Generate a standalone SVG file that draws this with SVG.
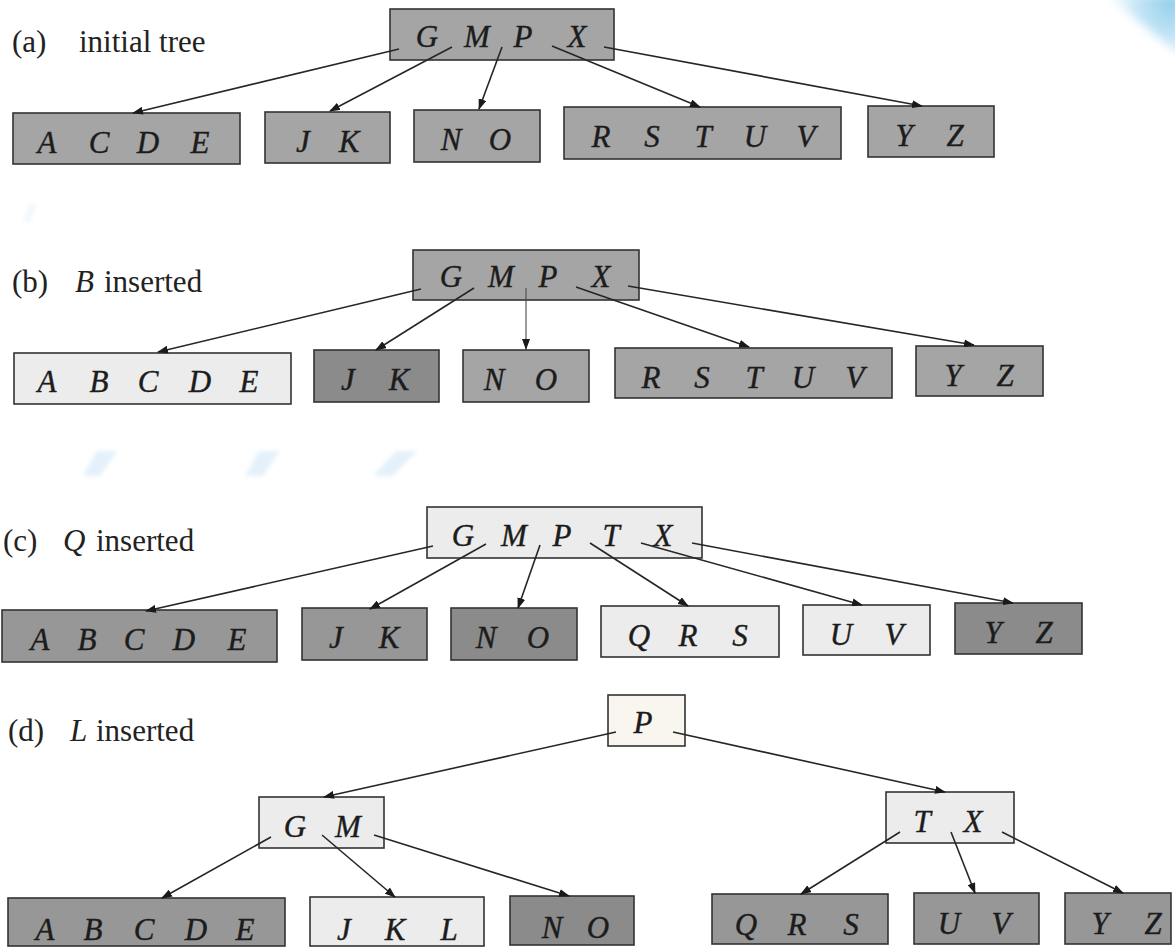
<svg xmlns="http://www.w3.org/2000/svg" width="1175" height="947" viewBox="0 0 1175 947">
  <style>
    .node rect { stroke: #333; stroke-width: 1.6; }
    .key { font-family: "Liberation Serif", "DejaVu Serif", "Times New Roman", serif; font-style: italic; font-size: 31px; fill: #1c1c1c; stroke: #1c1c1c; stroke-width: 0.4; text-anchor: middle; }
    .cap { font-family: "Liberation Serif", "DejaVu Serif", "Times New Roman", serif; font-size: 31px; fill: #222; }
    .cap .v { font-style: italic; }
    .mid { fill: #a5a5a5; }
    .dark { fill: #8b8b8b; }
    .dim { fill: #979797; }
    .light { fill: #ececec; }
    .cream { fill: #f8f6ef; }
    #links path { fill: none; stroke: #262626; stroke-width: 1.6; marker-end: url(#head); }
    #links path.thin { stroke: #4a4a4a; stroke-width: 1.1; }
    .mark { fill: #e4f1fa; }
  </style>
  <defs>
    <marker id="head" markerUnits="userSpaceOnUse" markerWidth="11" markerHeight="8" refX="10" refY="4" orient="auto">
      <path d="M0,0 L11,4 L0,8 Z" fill="#1a1a1a"/>
    </marker>
    <radialGradient id="corner" gradientUnits="userSpaceOnUse" cx="1175" cy="0" r="80">
      <stop offset="0" stop-color="#8fcdeb"/>
      <stop offset="0.5" stop-color="#c6e6f6"/>
      <stop offset="1" stop-color="#ffffff" stop-opacity="0"/>
    </radialGradient>
    <filter id="soft" x="-30%" y="-30%" width="160%" height="160%">
      <feGaussianBlur stdDeviation="2"/>
    </filter>
    <filter id="softer" x="-30%" y="-30%" width="160%" height="160%">
      <feGaussianBlur stdDeviation="5"/>
    </filter>
  </defs>

  <rect width="1175" height="947" fill="#ffffff"/>

  <!-- faint background marks -->
  <path d="M1105,-6 L1181,-6 L1181,56 Z" fill="url(#corner)" filter="url(#softer)"/>
  <g id="marks" filter="url(#soft)">
    <path class="mark" d="M97,451 L117,451 L100,476 L83,476 Z"/>
    <path class="mark" d="M259,451 L280,451 L263,476 L245,476 Z"/>
    <path class="mark" d="M396,451 L417,451 L393,476 L373,476 Z"/>
    <path d="M30,203 L37,203 L30,222 L23,222 Z" fill="#f1f7fc"/>
  </g>

  <!-- captions -->
  <text class="cap" x="12" y="52">(a)<tspan x="79">initial tree</tspan></text>
  <text class="cap" x="12" y="292">(b)<tspan class="v" x="75">B</tspan><tspan x="104">inserted</tspan></text>
  <text class="cap" x="3" y="551">(c)<tspan class="v" x="63">Q</tspan><tspan x="96">inserted</tspan></text>
  <text class="cap" x="8" y="741">(d)<tspan class="v" x="70">L</tspan><tspan x="96">inserted</tspan></text>

  <!-- (a) initial tree -->
  <g id="a-root" class="node"><rect class="mid" x="390" y="9" width="224" height="51"/>
    <text class="key" y="47"><tspan x="427">G</tspan><tspan x="477">M</tspan><tspan x="523">P</tspan><tspan x="577">X</tspan></text></g>
  <g id="a-acde" class="node"><rect class="mid" x="13" y="113" width="227" height="51"/>
    <text class="key" y="153"><tspan x="47">A</tspan><tspan x="99">C</tspan><tspan x="148">D</tspan><tspan x="200">E</tspan></text></g>
  <g id="a-jk" class="node"><rect class="mid" x="265" y="112" width="125" height="51"/>
    <text class="key" y="152"><tspan x="303">J</tspan><tspan x="349">K</tspan></text></g>
  <g id="a-no" class="node"><rect class="mid" x="414" y="110" width="126" height="52"/>
    <text class="key" y="150"><tspan x="451">N</tspan><tspan x="500">O</tspan></text></g>
  <g id="a-rstuv" class="node"><rect class="mid" x="564" y="107" width="277" height="52"/>
    <text class="key" y="147"><tspan x="601">R</tspan><tspan x="652">S</tspan><tspan x="703">T</tspan><tspan x="755">U</tspan><tspan x="806">V</tspan></text></g>
  <g id="a-yz" class="node"><rect class="mid" x="868" y="106" width="126" height="51"/>
    <text class="key" y="146"><tspan x="904">Y</tspan><tspan x="955">Z</tspan></text></g>

  <!-- (b) B inserted -->
  <g id="b-root" class="node"><rect class="mid" x="413" y="250" width="226" height="50"/>
    <text class="key" y="287"><tspan x="451">G</tspan><tspan x="501">M</tspan><tspan x="548">P</tspan><tspan x="601">X</tspan></text></g>
  <g id="b-abcde" class="node"><rect class="light" x="14" y="353" width="277" height="51"/>
    <text class="key" y="392"><tspan x="47">A</tspan><tspan x="99">B</tspan><tspan x="148">C</tspan><tspan x="200">D</tspan><tspan x="249">E</tspan></text></g>
  <g id="b-jk" class="node"><rect class="dark" x="314" y="350" width="125" height="52"/>
    <text class="key" y="390"><tspan x="348">J</tspan><tspan x="399">K</tspan></text></g>
  <g id="b-no" class="node"><rect class="mid" x="463" y="350" width="126" height="52"/>
    <text class="key" y="390"><tspan x="494">N</tspan><tspan x="546">O</tspan></text></g>
  <g id="b-rstuv" class="node"><rect class="mid" x="615" y="348" width="277" height="50"/>
    <text class="key" y="388"><tspan x="651">R</tspan><tspan x="702">S</tspan><tspan x="754">T</tspan><tspan x="803">U</tspan><tspan x="855">V</tspan></text></g>
  <g id="b-yz" class="node"><rect class="mid" x="916" y="346" width="127" height="50"/>
    <text class="key" y="386"><tspan x="953">Y</tspan><tspan x="1005">Z</tspan></text></g>

  <!-- (c) Q inserted -->
  <g id="c-root" class="node"><rect class="light" x="427" y="507" width="275" height="51"/>
    <text class="key" y="546"><tspan x="463">G</tspan><tspan x="514">M</tspan><tspan x="562">P</tspan><tspan x="611">T</tspan><tspan x="663">X</tspan></text></g>
  <g id="c-abcde" class="node"><rect class="dim" x="2" y="610" width="275" height="52"/>
    <text class="key" y="650"><tspan x="40">A</tspan><tspan x="87">B</tspan><tspan x="134">C</tspan><tspan x="184">D</tspan><tspan x="237">E</tspan></text></g>
  <g id="c-jk" class="node"><rect class="dim" x="302" y="608" width="125" height="52"/>
    <text class="key" y="648"><tspan x="336">J</tspan><tspan x="389">K</tspan></text></g>
  <g id="c-no" class="node"><rect class="dark" x="451" y="608" width="126" height="52"/>
    <text class="key" y="648"><tspan x="486">N</tspan><tspan x="538">O</tspan></text></g>
  <g id="c-qrs" class="node"><rect class="light" x="601" y="606" width="178" height="51"/>
    <text class="key" y="646"><tspan x="639">Q</tspan><tspan x="688">R</tspan><tspan x="740">S</tspan></text></g>
  <g id="c-uv" class="node"><rect class="light" x="803" y="605" width="127" height="50"/>
    <text class="key" y="645"><tspan x="841">U</tspan><tspan x="894">V</tspan></text></g>
  <g id="c-yz" class="node"><rect class="dark" x="955" y="603" width="127" height="51"/>
    <text class="key" y="643"><tspan x="993">Y</tspan><tspan x="1044">Z</tspan></text></g>

  <!-- (d) L inserted -->
  <g id="d-p" class="node"><rect class="cream" x="608" y="695" width="77" height="51"/>
    <text class="key" y="733"><tspan x="643">P</tspan></text></g>
  <g id="d-gm" class="node"><rect class="light" x="259" y="797" width="125" height="51"/>
    <text class="key" y="837"><tspan x="295">G</tspan><tspan x="348">M</tspan></text></g>
  <g id="d-tx" class="node"><rect class="light" x="886" y="792" width="128" height="51"/>
    <text class="key" y="832"><tspan x="922">T</tspan><tspan x="973">X</tspan></text></g>
  <g id="d-abcde" class="node"><rect class="dim" x="8" y="898" width="277" height="48"/>
    <text class="key" y="940"><tspan x="45">A</tspan><tspan x="93">B</tspan><tspan x="144">C</tspan><tspan x="196">D</tspan><tspan x="245">E</tspan></text></g>
  <g id="d-jkl" class="node"><rect class="light" x="310" y="897" width="174" height="49"/>
    <text class="key" y="940"><tspan x="344">J</tspan><tspan x="395">K</tspan><tspan x="449">L</tspan></text></g>
  <g id="d-no" class="node"><rect class="dark" x="510" y="896" width="124" height="49"/>
    <text class="key" y="938"><tspan x="552">N</tspan><tspan x="598">O</tspan></text></g>
  <g id="d-qrs" class="node"><rect class="dim" x="712" y="894" width="176" height="50"/>
    <text class="key" y="935"><tspan x="746">Q</tspan><tspan x="797">R</tspan><tspan x="851">S</tspan></text></g>
  <g id="d-uv" class="node"><rect class="dim" x="914" y="893" width="125" height="51"/>
    <text class="key" y="934"><tspan x="949">U</tspan><tspan x="1001">V</tspan></text></g>
  <g id="d-yz" class="node"><rect class="dim" x="1065" y="893" width="106" height="51"/>
    <text class="key" y="934"><tspan x="1100">Y</tspan><tspan x="1153">Z</tspan></text></g>

  <!-- connectors, drawn over the nodes so each starts between two keys -->
  <g id="links">
    <!-- (a) -->
    <path d="M399,49 L133,113"/>
    <path d="M452,47 L330,111"/>
    <path d="M502,47 L479,109"/>
    <path d="M552,46 L700,107"/>
    <path d="M604,47 L922,106"/>
    <!-- (b) -->
    <path d="M421,289 L158,352"/>
    <path d="M474,288 L376,350"/>
    <path class="thin" d="M526,288 L526,349"/>
    <path d="M576,287 L749,347"/>
    <path d="M628,286 L974,345"/>
    <!-- (c) -->
    <path d="M433,546 L146,611"/>
    <path d="M486,544 L370,609"/>
    <path d="M540,545 L518,608"/>
    <path d="M590,543 L688,606"/>
    <path d="M641,543 L862,605"/>
    <path d="M692,543 L1013,603"/>
    <!-- (d) -->
    <path d="M616,732 L324,797"/>
    <path d="M673,732 L945,792"/>
    <path d="M271,837 L162,898"/>
    <path d="M322,835 L395,897"/>
    <path d="M374,835 L569,896"/>
    <path d="M900,832 L801,894"/>
    <path d="M951,832 L975,893"/>
    <path d="M1002,832 L1123,893"/>
  </g>
</svg>
